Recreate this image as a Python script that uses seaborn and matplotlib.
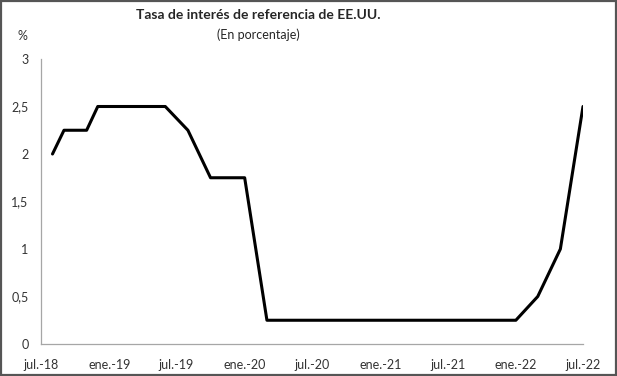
import pandas as pd
import matplotlib.pyplot as plt
import seaborn as sns

# puntos de cambio de la tasa
fechas = ['2018-08-01', '2018-09-01', '2018-11-01', '2018-12-01', '2019-06-01',
          '2019-08-01', '2019-10-01', '2020-01-01', '2020-03-01', '2022-01-01',
          '2022-03-01', '2022-05-01', '2022-07-01']
tasa = [2.0, 2.25, 2.25, 2.5, 2.5, 2.25, 1.75, 1.75, 0.25, 0.25, 0.5, 1.0, 2.5]

ticks_x = ['2018-07-01', '2019-01-01', '2019-07-01', '2020-01-01', '2020-07-01',
           '2021-01-01', '2021-07-01', '2022-01-01', '2022-07-01']
etiquetas_x = ['jul.-18', 'ene.-19', 'jul.-19', 'ene.-20', 'jul.-20',
               'ene.-21', 'jul.-21', 'ene.-22', 'jul.-22']
ticks_y = [0, 0.5, 1, 1.5, 2, 2.5, 3]
etiquetas_y = ['0', '0,5', '1', '1,5', '2', '2,5', '3']

df = pd.DataFrame({'Fecha': pd.to_datetime(fechas), 'Tasa': tasa})

sns.set_style('white')
plt.rcParams['font.family'] = ['Lato', 'DejaVu Sans']

fig = plt.figure(figsize=(6.17, 3.76), dpi=100)
ax = fig.add_axes([41 / 617, 1 - 344 / 376, (583 - 41) / 617, (344 - 59) / 376])

sns.lineplot(data=df, x='Fecha', y='Tasa', color='black', linewidth=2.2, ax=ax)

ax.set_xlim(pd.Timestamp('2018-07-01'), pd.Timestamp('2022-07-01'))
ax.set_ylim(0, 3)
ax.set_xticks(pd.to_datetime(ticks_x))
ax.set_xticklabels(etiquetas_x, fontsize=9, color='#333333')
ax.set_yticks(ticks_y)
ax.set_yticklabels(etiquetas_y, fontsize=9, color='#333333')
ax.set_xlabel('')
ax.set_ylabel('')

for s in ['top', 'right']:
    ax.spines[s].set_visible(False)
for s in ['left', 'bottom']:
    ax.spines[s].set_color('#a6a6a6')
    ax.spines[s].set_linewidth(0.9)
ax.tick_params(axis='both', which='major', length=4, width=0.9, color='#a6a6a6',
               direction='out', pad=5)
ax.tick_params(axis='x', pad=7)

fig.text(258 / 617, 1 - 15 / 376, 'Tasa de interés de referencia de EE.UU.',
         ha='center', va='center', fontsize=10, fontweight='bold')
fig.text(258 / 617, 1 - 35 / 376, '(En porcentaje)', ha='center', va='center',
         fontsize=9)
fig.text(22 / 617, 1 - 36 / 376, '%', ha='center', va='center', fontsize=9,
         color='#333333')

# marco exterior
fig.patches.append(plt.Rectangle((0.002, 0.003), 0.996, 0.994, transform=fig.transFigure,
                                 fill=False, edgecolor='#555555', linewidth=1.6))

fig.savefig('out.png', dpi=100)
